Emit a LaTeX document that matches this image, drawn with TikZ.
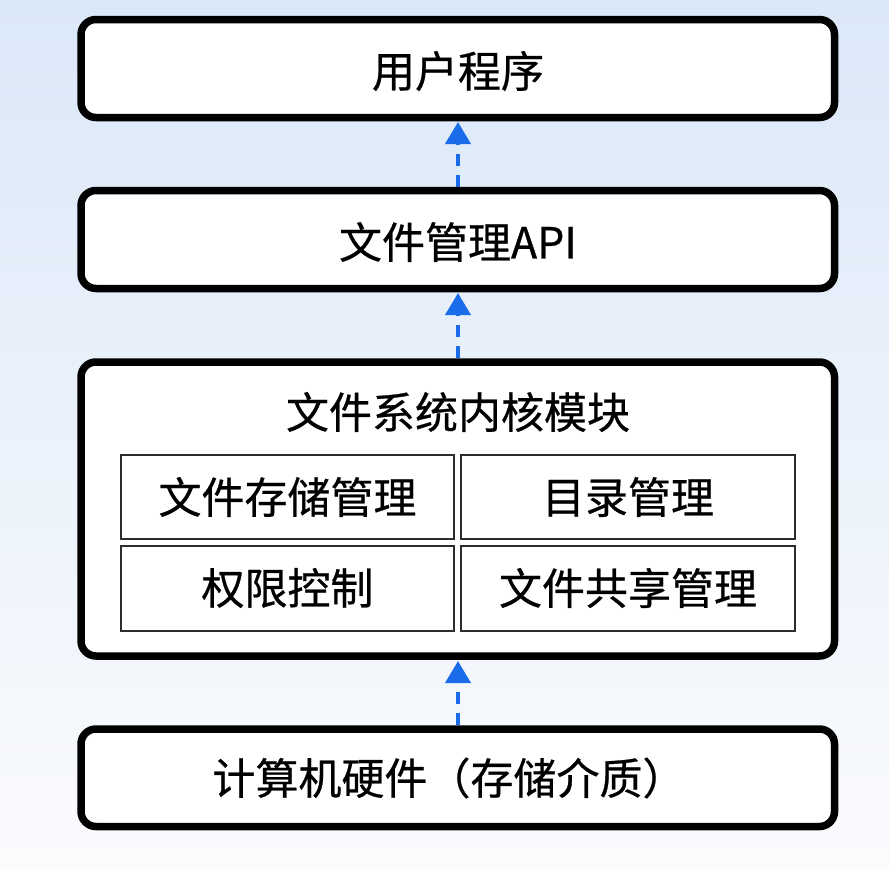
\documentclass[tikz,border=0pt]{standalone}
\usepackage{fontspec}
\setmainfont[FakeBold=0.6]{Noto Sans CJK SC}
\usetikzlibrary{arrows.meta}
\definecolor{bgtop}{RGB}{219,232,248}
\definecolor{bgbot}{RGB}{250,251,253}
\definecolor{arrowblue}{RGB}{26,108,232}
\definecolor{innerline}{RGB}{45,45,45}
\tikzset{
  outerbox/.style={draw=black, line width=7.5pt, rounded corners=15pt, fill=white},
  innerbox/.style={draw=innerline, line width=2pt, fill=white},
  lbl/.style={font=\fontsize{43}{50}\selectfont, text=black, inner sep=0pt},
  uparrow/.style={draw=arrowblue, line width=4pt, dash pattern=on 12pt off 9pt,
    -{Triangle[width=25pt,length=22pt]}, shorten >=0pt}
}
\begin{document}
\begin{tikzpicture}[x=1pt,y=-1pt]
\shade[top color=bgtop, bottom color=bgbot] (0,0) rectangle (889,868);
\useasboundingbox (0,0) rectangle (889,868);

% outer boxes
\draw[outerbox] (81,19.5) rectangle (834.5,117.5);
\draw[outerbox] (81,190.5) rectangle (834.5,288.5);
\draw[outerbox] (81,362) rectangle (834.5,656);
\draw[outerbox] (81,729) rectangle (834.5,826.5);

\coordinate (b1bot) at (458,122);
\coordinate (b2top) at (458,187);
\coordinate (b2bot) at (458,293);
\coordinate (b3top) at (458,358);
\coordinate (b3bot) at (458,661);
\coordinate (b4top) at (458,725);

% inner boxes
\draw[innerbox] (121,455) rectangle (454,539);
\draw[innerbox] (461,455) rectangle (795,539);
\draw[innerbox] (121,546) rectangle (454,631);
\draw[innerbox] (461,546) rectangle (795,631);

% labels
\node[lbl] (user) at (458,71) {用户程序};
\node[lbl] (api) at (458,242) {文件管理API};
\node[lbl] (core) at (458,412) {文件系统内核模块};
\node[lbl] (store) at (287.5,497) {文件存储管理};
\node[lbl] (dir) at (628,497) {目录管理};
\node[lbl] (perm) at (287.5,588) {权限控制};
\node[lbl] (share) at (628,588) {文件共享管理};
\node[lbl] (hw) at (449,778) {计算机硬件（存储介质）};

% arrows
\draw[uparrow] (b2top) -- (b1bot);
\draw[uparrow] (b3top) -- (b2bot);
\draw[uparrow] (b4top) -- (b3bot);
\end{tikzpicture}
\end{document}
